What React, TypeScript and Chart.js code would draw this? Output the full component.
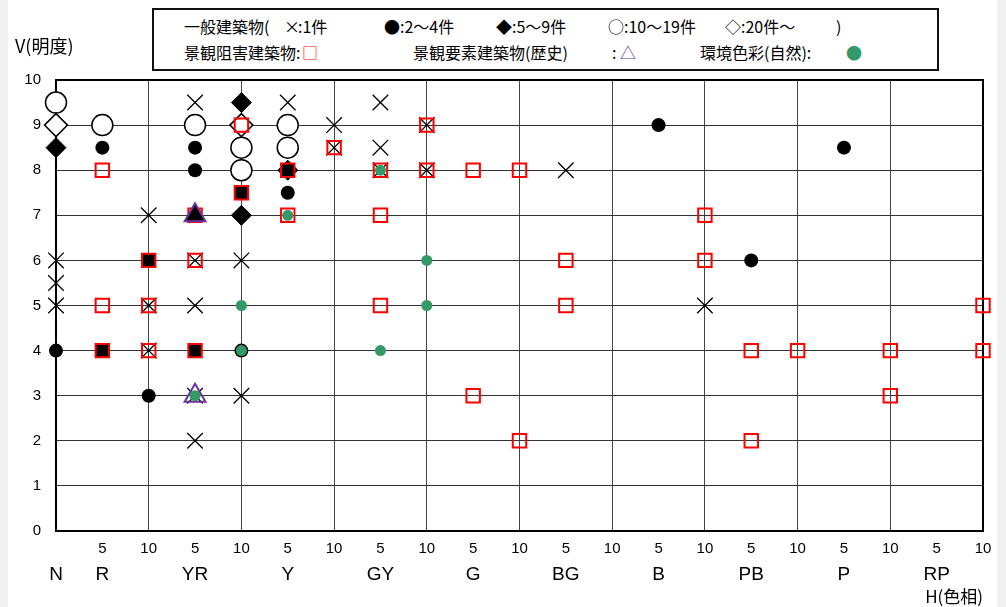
import React, { useEffect, useRef } from "react";
import { Chart, registerables } from "chart.js";

Chart.register(...registerables);

// Hue positions along the x axis (index = x value)
const HUE_POSITIONS = [
  "N", "R5", "R10", "YR5", "YR10", "Y5", "Y10", "GY5", "GY10", "G5", "G10",
  "BG5", "BG10", "B5", "B10", "PB5", "PB10", "P5", "P10", "RP5", "RP10",
];
const NUMBER_LABELS = ["", "5", "10", "5", "10", "5", "10", "5", "10", "5", "10", "5", "10", "5", "10", "5", "10", "5", "10", "5", "10"];
const HUE_NAMES = ["N", "R", "", "YR", "", "Y", "", "GY", "", "G", "", "BG", "", "B", "", "PB", "", "P", "", "RP", ""];
const VALUE_TICKS = [0, 1, 2, 3, 4, 5, 6, 7, 8, 9, 10];

// 一般建築物  ×:1件
const GENERAL_1: [string, number][] = [
  ["N", 6], ["N", 5.5], ["N", 5],
  ["R10", 7], ["R10", 5], ["R10", 4],
  ["YR5", 9.5], ["YR5", 6], ["YR5", 5], ["YR5", 3], ["YR5", 2],
  ["YR10", 6], ["YR10", 3],
  ["Y5", 9.5],
  ["Y10", 9], ["Y10", 8.5],
  ["GY5", 9.5], ["GY5", 8.5], ["GY5", 8],
  ["GY10", 9], ["GY10", 8],
  ["BG5", 8],
  ["B10", 5],
];
// ●:2～4件
const GENERAL_2TO4: [string, number][] = [
  ["N", 4],
  ["R5", 8.5], ["R5", 4],
  ["R10", 6], ["R10", 3],
  ["YR5", 8.5], ["YR5", 8], ["YR5", 7], ["YR5", 4],
  ["YR10", 7.5], ["YR10", 4],
  ["Y5", 7.5],
  ["B5", 9],
  ["PB5", 6],
  ["P5", 8.5],
];
// ◆:5～9件
const GENERAL_5TO9: [string, number][] = [
  ["N", 8.5],
  ["YR10", 9.5], ["YR10", 7],
  ["Y5", 8],
];
// ○:10～19件
const GENERAL_10TO19: [string, number][] = [
  ["N", 9.5],
  ["R5", 9],
  ["YR5", 9],
  ["YR10", 8.5], ["YR10", 8],
  ["Y5", 9], ["Y5", 8.5],
];
// ◇:20件～
const GENERAL_20PLUS: [string, number][] = [
  ["N", 9],
  ["YR10", 9],
];
// 景観阻害建築物 □
const OBSTRUCTIVE: [string, number][] = [
  ["R5", 8], ["R5", 5], ["R5", 4],
  ["R10", 6], ["R10", 5], ["R10", 4],
  ["YR5", 7], ["YR5", 6], ["YR5", 4],
  ["YR10", 9], ["YR10", 7.5],
  ["Y5", 8], ["Y5", 7],
  ["Y10", 8.5],
  ["GY5", 8], ["GY5", 7], ["GY5", 5],
  ["GY10", 9], ["GY10", 8],
  ["G5", 8], ["G5", 3],
  ["G10", 8], ["G10", 2],
  ["BG5", 6], ["BG5", 5],
  ["B10", 7], ["B10", 6],
  ["PB5", 4], ["PB5", 2],
  ["PB10", 4],
  ["P10", 4], ["P10", 3],
  ["RP10", 5], ["RP10", 4],
];
// 景観要素建築物(歴史) △
const HISTORIC: [string, number][] = [
  ["YR5", 7], ["YR5", 3],
];
// 環境色彩(自然) ●
const NATURAL: [string, number][] = [
  ["YR5", 3],
  ["YR10", 5], ["YR10", 4],
  ["Y5", 7],
  ["GY5", 8], ["GY5", 4],
  ["GY10", 6], ["GY10", 5],
];

const toPts = (list: [string, number][]) =>
  list.map(([h, v]) => ({ x: HUE_POSITIONS.indexOf(h), y: v }));
const has = (list: [string, number][], h: string, v: number) =>
  list.some(([a, b]) => a === h && b === v);

const RED = "#ff0000";
const PURPLE = "#7030a0";
const GREEN = "#339966";
const FONT_LATIN = "'Liberation Sans', Arial, sans-serif";
const FONT_CJK = "'Noto Sans CJK JP', 'Noto Sans', sans-serif";

const frame = {
  id: "frame",
  beforeDatasetsDraw(chart: any) {
    const { ctx, chartArea } = chart;
    ctx.save();
    ctx.strokeStyle = "#000";
    ctx.lineWidth = 2;
    ctx.strokeRect(chartArea.left, chartArea.top, chartArea.right - chartArea.left, chartArea.bottom - chartArea.top);
    ctx.restore();
  },
};

const LEGEND_LINE1: [number, string, string][] = [
  [184, "一般建築物(", "#000"],
  [284, "×", "#000"],
  [298, ":1件", "#000"],
  [384, "●", "#000"],
  [400, ":2～4件", "#000"],
  [496, "◆", "#000"],
  [512, ":5～9件", "#000"],
  [608, "○", "#000"],
  [624, ":10～19件", "#000"],
  [725, "◇", "#000"],
  [741, ":20件～", "#000"],
  [836, ")", "#000"],
];
const LEGEND_LINE2: [number, string, string][] = [
  [184, "景観阻害建築物:", "#000"],
  [302, "□", RED],
  [413, "景観要素建築物(歴史)", "#000"],
  [612, ":", "#000"],
  [620, "△", PURPLE],
  [700, "環境色彩(自然):", "#000"],
  [846, "●", GREEN],
];

export default function App() {
  const ref = useRef<HTMLCanvasElement | null>(null);

  useEffect(() => {
    if (!ref.current) return;
    const obsFill = OBSTRUCTIVE.map(([h, v]) =>
      (has(GENERAL_2TO4, h, v) || has(GENERAL_5TO9, h, v)) && !has(HISTORIC, h, v) ? "#000" : "rgba(0,0,0,0)"
    );
    const histFill = HISTORIC.map(([h, v]) => (has(GENERAL_2TO4, h, v) ? "#000" : "rgba(0,0,0,0)"));

    const chart = new Chart(ref.current, {
      type: "scatter",
      data: {
        datasets: [
          { label: "○", data: toPts(GENERAL_10TO19), clip: false, order: 9, pointStyle: "circle", pointRadius: 10.5, pointBorderWidth: 1.5, pointBorderColor: "#000", pointBackgroundColor: "#fff" },
          { label: "◇", data: toPts(GENERAL_20PLUS), clip: false, order: 8, pointStyle: "rectRot", pointRadius: 11.5, pointBorderWidth: 1.5, pointBorderColor: "#000", pointBackgroundColor: "#fff" },
          { label: "◆", data: toPts(GENERAL_5TO9), clip: false, order: 7, pointStyle: "rectRot", pointRadius: 10, pointBorderWidth: 1, pointBorderColor: "#000", pointBackgroundColor: "#000" },
          { label: "●", data: toPts(GENERAL_2TO4), clip: false, order: 6, pointStyle: "circle", pointRadius: 7, pointBorderWidth: 0, pointBorderColor: "#000", pointBackgroundColor: "#000" },
          { label: "×", data: toPts(GENERAL_1), clip: false, order: 5, pointStyle: "crossRot", pointRadius: 11, pointBorderWidth: 1.3, pointBorderColor: "#000", pointBackgroundColor: "#000" },
          { label: "□", data: toPts(OBSTRUCTIVE), clip: false, order: 4, pointStyle: "rect", pointRadius: 9.5, pointBorderWidth: 2, pointBorderColor: RED, pointBackgroundColor: obsFill },
          { label: "△", data: toPts(HISTORIC), clip: false, order: 3, pointStyle: "triangle", pointRadius: 12, pointBorderWidth: 2, pointBorderColor: PURPLE, pointBackgroundColor: histFill },
          { label: "自然", data: toPts(NATURAL), clip: false, order: 2, pointStyle: "circle", pointRadius: 5.5, pointBorderWidth: 0, pointBorderColor: GREEN, pointBackgroundColor: GREEN },
        ] as any,
      },
      options: {
        animation: false,
        responsive: false,
        events: [],
        layout: { padding: { top: 80, right: 23, left: 0, bottom: 0 } },
        plugins: { legend: { display: false }, tooltip: { enabled: false } },
        scales: {
          x: {
            type: "linear",
            position: "bottom",
            min: 0,
            max: HUE_POSITIONS.length - 1,
            afterBuildTicks: (s: any) => { s.ticks = HUE_POSITIONS.map((_, i) => ({ value: i })); },
            ticks: {
              autoSkip: false, maxRotation: 0, padding: 9, color: "#000",
              font: { family: FONT_LATIN, size: 15 },
              callback: (v: any) => NUMBER_LABELS[Number(v)] ?? "",
            },
            grid: {
              drawTicks: false, lineWidth: 1,
              color: (c: any) => (c.tick && c.tick.value % 2 === 0 ? "#444" : "rgba(0,0,0,0)"),
            },
            border: { display: true, color: "#000", width: 2 },
            afterFit: (s: any) => { s.height = 30; },
          },
          x2: {
            type: "linear",
            position: "bottom",
            min: 0,
            max: HUE_POSITIONS.length - 1,
            afterBuildTicks: (s: any) => { s.ticks = HUE_POSITIONS.map((_, i) => ({ value: i })); },
            ticks: {
              autoSkip: false, maxRotation: 0, padding: 2, color: "#000",
              font: { family: FONT_LATIN, size: 19 },
              callback: (v: any) => HUE_NAMES[Number(v)] ?? "",
            },
            grid: { display: false, drawTicks: false },
            border: { display: false },
            title: { display: true, text: "H(色相)", align: "end", color: "#000", padding: 0, font: { family: FONT_CJK, size: 17 } },
            afterFit: (s: any) => { s.height = 46; },
          },
          y: {
            type: "linear",
            min: VALUE_TICKS[0],
            max: VALUE_TICKS[VALUE_TICKS.length - 1],
            afterBuildTicks: (s: any) => { s.ticks = VALUE_TICKS.map((v) => ({ value: v })); },
            ticks: { padding: 15, color: "#000", font: { family: FONT_LATIN, size: 15 } },
            grid: { drawTicks: false, color: "#333", lineWidth: 1 },
            border: { display: true, color: "#000", width: 2 },
            afterFit: (s: any) => { s.width = 56; },
          },
        } as any,
      },
      plugins: [frame],
    });
    return () => chart.destroy();
  }, []);

  const legendSpan = (line: [number, string, string][], top: number) =>
    line.map(([left, text, color], i) => (
      <span key={top + "-" + i} style={{ position: "absolute", left, top, color, fontFamily: FONT_CJK, fontSize: 16, lineHeight: "22px", whiteSpace: "nowrap" }}>
        {text}
      </span>
    ));

  return (
    <div style={{ position: "fixed", left: 0, top: 0, width: 1006, height: 607, background: "#f1f1f1", overflow: "hidden" }}>
      <div style={{ position: "absolute", left: 8, top: 0, width: 989, height: 607, background: "#fff" }} />
      <canvas ref={ref} width={1006} height={607} style={{ position: "absolute", left: 0, top: 0, width: 1006, height: 607 }} />
      <div style={{ position: "absolute", left: 152, top: 8, width: 783, height: 59, border: "2px solid #111", background: "#fff" }} />
      {legendSpan(LEGEND_LINE1, 15)}
      {legendSpan(LEGEND_LINE2, 41)}
      <span style={{ position: "absolute", left: 15, top: 34, fontFamily: FONT_CJK, fontSize: 18, lineHeight: "22px", color: "#000", whiteSpace: "nowrap" }}>V(明度)</span>
    </div>
  );
}
